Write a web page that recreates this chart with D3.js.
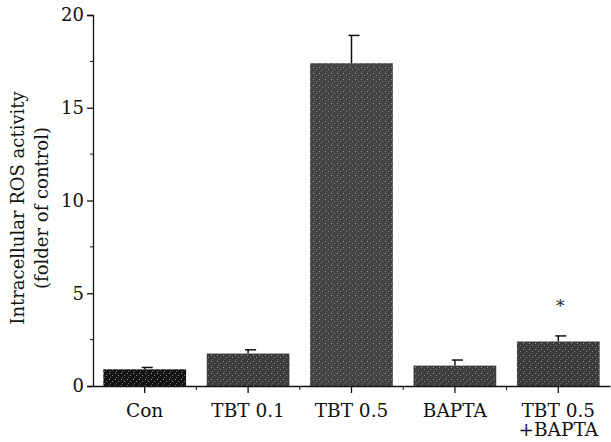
<!DOCTYPE html>
<html>
<head>
<meta charset="utf-8">
<script src="https://cdn.jsdelivr.net/npm/d3@7"></script>
<style>
  body { margin: 0; background: #fff; }
  svg { display: block; }
</style>
</head>
<body>
<svg width="611" height="442"></svg>
<script>
const categories = ["Con", "TBT 0.1", "TBT 0.5", "BAPTA", "TBT 0.5\n+BAPTA"];
const values = [0.9, 1.75, 17.4, 1.1, 2.4];
const errors = [0.1, 0.2, 1.5, 0.3, 0.3];
const yTicks = [0, 5, 10, 15, 20];
const yMinor = [2.5, 7.5, 12.5, 17.5];
const barColors = ["#141414", "#3c3c3c", "#434343", "#3e3e3e", "#3a3a3a"];

const font = "'DejaVu Serif', 'Liberation Serif', serif";
let svg = d3.select("svg");

// stippled texture for the bars
let defs = svg.append("defs");
barColors.forEach((c, i) => {
  let p = defs.append("pattern")
      .attr("id", "tex" + i)
      .attr("width", 6).attr("height", 6)
      .attr("patternUnits", "userSpaceOnUse");
  p.append("rect").attr("width", 6).attr("height", 6).attr("fill", c);
  p.append("rect").attr("x", 1).attr("y", 1).attr("width", 1).attr("height", 1).attr("fill", "#9a9a9a");
  p.append("rect").attr("x", 4).attr("y", 3).attr("width", 1).attr("height", 1).attr("fill", "#888");
  p.append("rect").attr("x", 2).attr("y", 5).attr("width", 1).attr("height", 1).attr("fill", "#6a6a6a");
});

let x = d3.scaleBand()
    .domain(categories)
    .range([93, 610])
    .paddingInner(0.2)
    .paddingOuter(0.1);

let y = d3.scaleLinear()
    .domain([0, 20])
    .range([386, 15]);

// bars
svg.selectAll(".bar")
    .data(values)
    .enter()
    .append("rect")
    .attr("x", (d, i) => x(categories[i]))
    .attr("y", d => y(d))
    .attr("width", x.bandwidth())
    .attr("height", d => y(0) - y(d))
    .attr("fill", (d, i) => `url(#tex${i})`);

// error bars
let eb = svg.append("g").attr("stroke", "#111").attr("stroke-width", 1.5);
values.forEach((v, i) => {
  let cx = x(categories[i]) + x.bandwidth() / 2;
  eb.append("line")
      .attr("x1", cx).attr("x2", cx)
      .attr("y1", y(v)).attr("y2", y(v + errors[i]));
  eb.append("line")
      .attr("x1", cx - 3).attr("x2", cx + 8)
      .attr("y1", y(v + errors[i])).attr("y2", y(v + errors[i]));
});

// asterisk over last bar
svg.append("text")
    .attr("x", x(categories[4]) + x.bandwidth() / 2 + 2)
    .attr("y", y(values[4] + errors[4]) - 24)
    .attr("text-anchor", "middle")
    .attr("font-family", font)
    .attr("font-size", "17px")
    .attr("fill", "#222")
    .text("*");

// y axis
let yAxis = svg.append("g")
    .attr("transform", "translate(93,0)")
    .call(d3.axisLeft(y).tickValues(yTicks).tickSize(6).tickPadding(3));
yAxis.select(".domain").attr("stroke", "#111").attr("stroke-width", 1.3);
yAxis.selectAll(".tick line").attr("stroke", "#111").attr("stroke-width", 1.3);
yAxis.selectAll("text")
    .attr("font-family", font)
    .attr("font-size", "18px")
    .attr("fill", "#111");
yAxis.selectAll(".minor")
    .data(yMinor)
    .enter()
    .append("line")
    .attr("x1", 0).attr("x2", -3)
    .attr("y1", d => y(d)).attr("y2", d => y(d))
    .attr("stroke", "#111");

// x axis
let xAxis = svg.append("g")
    .attr("transform", `translate(0,${y(0)})`)
    .call(d3.axisBottom(x).tickSize(7).tickSizeOuter(0).tickFormat(""));
xAxis.select(".domain").attr("stroke", "#111").attr("stroke-width", 1.3);
xAxis.selectAll(".tick line").attr("stroke", "#111").attr("stroke-width", 1.3);
// short ticks between categories
xAxis.selectAll(".between")
    .data(categories.slice(1))
    .enter()
    .append("line")
    .attr("x1", d => x(d) - x.step() * x.paddingInner() / 2)
    .attr("x2", d => x(d) - x.step() * x.paddingInner() / 2)
    .attr("y1", 0).attr("y2", 4)
    .attr("stroke", "#111");

// category labels
categories.forEach(c => {
  let t = svg.append("text")
      .attr("x", x(c) + x.bandwidth() / 2)
      .attr("y", 417)
      .attr("text-anchor", "middle")
      .attr("font-family", font)
      .attr("font-size", "18.5px")
      .attr("fill", "#111");
  c.split("\n").forEach((line, j) => {
    t.append("tspan")
        .attr("x", x(c) + x.bandwidth() / 2)
        .attr("dy", j === 0 ? 0 : 19)
        .text(line);
  });
});

// y title
svg.append("text")
    .attr("transform", "translate(24,208) rotate(-90)")
    .attr("text-anchor", "middle")
    .attr("font-family", font)
    .attr("font-size", "18px")
    .attr("fill", "#111")
    .text("Intracellular ROS activity");
svg.append("text")
    .attr("transform", "translate(48,208) rotate(-90)")
    .attr("text-anchor", "middle")
    .attr("font-family", font)
    .attr("font-size", "18px")
    .attr("fill", "#111")
    .text("(folder of control)");
</script>
</body>
</html>
